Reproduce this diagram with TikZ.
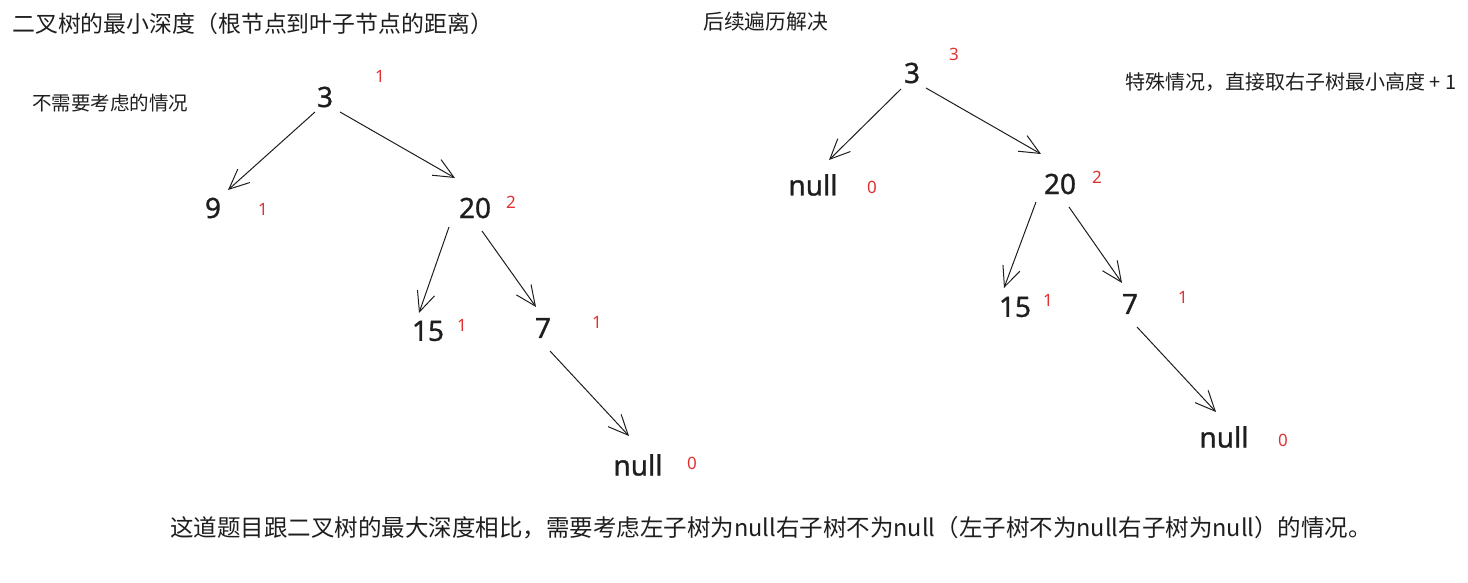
\documentclass[tikz,border=0pt]{standalone}
\usepackage{fontspec}
\setmainfont{Noto Sans}
\newfontfamily\cjk{Noto Sans CJK SC}
\newfontfamily\numfont{Noto Sans}[FakeBold=1]
\usetikzlibrary{arrows.meta,calc}
\definecolor{exred}{RGB}{224,49,49}
\definecolor{ink}{RGB}{30,30,30}
\tikzset{
  val/.style={font=\numfont\fontsize{28}{30}\selectfont, text=ink, inner sep=0pt},
  dep/.style={font=\fontsize{17}{18}\selectfont, text=exred, inner sep=0pt},
  note/.style={text=ink, anchor=west, inner sep=0pt},
  arr/.style={draw=ink, line width=1pt, -{Straight Barb[length=20pt,width=18pt,line width=1pt]}},
}
\begin{document}
\begin{tikzpicture}[x=1pt,y=-1pt]
\useasboundingbox (0,0) rectangle (1468,583);

% texts
\node[note, font=\cjk\fontsize{22.9}{26}\selectfont] (title) at (12,24) {二叉树的最小深度（根节点到叶子节点的距离）};
\node[note, font=\cjk\fontsize{19.5}{22}\selectfont] (skip) at (32,103) {不需要考虑的情况};
\node[note, font=\cjk\fontsize{20.8}{24}\selectfont] (post) at (703,22) {后续遍历解决};
\node[note, font=\cjk\fontsize{20}{24}\selectfont] (special) at (1125,82) {特殊情况，直接取右子树最小高度 + 1};
\node[note, font=\cjk\fontsize{23.5}{28}\selectfont] (summary) at (170,528) {这道题目跟二叉树的最大深度相比，需要考虑左子树为null右子树不为null（左子树不为null右子树为null）的情况。};

% left tree
\node[val] (r3) at (325,97) {3};
\node[val] (n9) at (213,208) {9};
\node[val] (n20) at (475,208) {20};
\node[val] (n15) at (428,331) {15};
\node[val] (n7) at (543,328) {7};
\node[val] (nl) at (638,465) {null};
\node[dep] (d3) at (380,76) {1};
\node[dep] (d9) at (263,209) {1};
\node[dep] (d20) at (511,202) {2};
\node[dep] (d15) at (462,325) {1};
\node[dep] (d7) at (597,322) {1};
\node[dep] (dnl) at (692,463) {0};

\draw[arr] ($(r3)+(-10,15)$) -- ($(n9)+(15,-18)$);
\draw[arr] ($(r3)+(15,15)$) -- ($(n20)+(-20,-30)$);
\draw[arr] ($(n20)+(-26,19)$) -- ($(n15)+(-9,-18)$);
\draw[arr] ($(n20)+(7,23)$) -- ($(n7)+(-7,-21)$);
\draw[arr] ($(n7)+(7,23)$) -- ($(nl)+(-9,-29)$);

% right tree
\node[val] (R3) at (912,73) {3};
\node[val] (Rnull) at (813,185) {null};
\node[val] (R20) at (1060,184) {20};
\node[val] (R15) at (1015,307) {15};
\node[val] (R7) at (1130,304) {7};
\node[val] (Rnl) at (1224,437) {null};
\node[dep] (D3) at (954,54) {3};
\node[dep] (Dnull) at (872,187) {0};
\node[dep] (D20) at (1097,177) {2};
\node[dep] (D15) at (1048,300) {1};
\node[dep] (D7) at (1183,297) {1};
\node[dep] (Dnl) at (1283,440) {0};

\draw[arr] ($(R3)+(-11,16)$) -- ($(Rnull)+(16,-25)$);
\draw[arr] ($(R3)+(14,15)$) -- ($(R20)+(-19,-30)$);
\draw[arr] ($(R20)+(-24,18)$) -- ($(R15)+(-11,-19)$);
\draw[arr] ($(R20)+(9,23)$) -- ($(R7)+(-8,-21)$);
\draw[arr] ($(R7)+(7,23)$) -- ($(Rnl)+(-8,-25)$);
\end{tikzpicture}
\end{document}
